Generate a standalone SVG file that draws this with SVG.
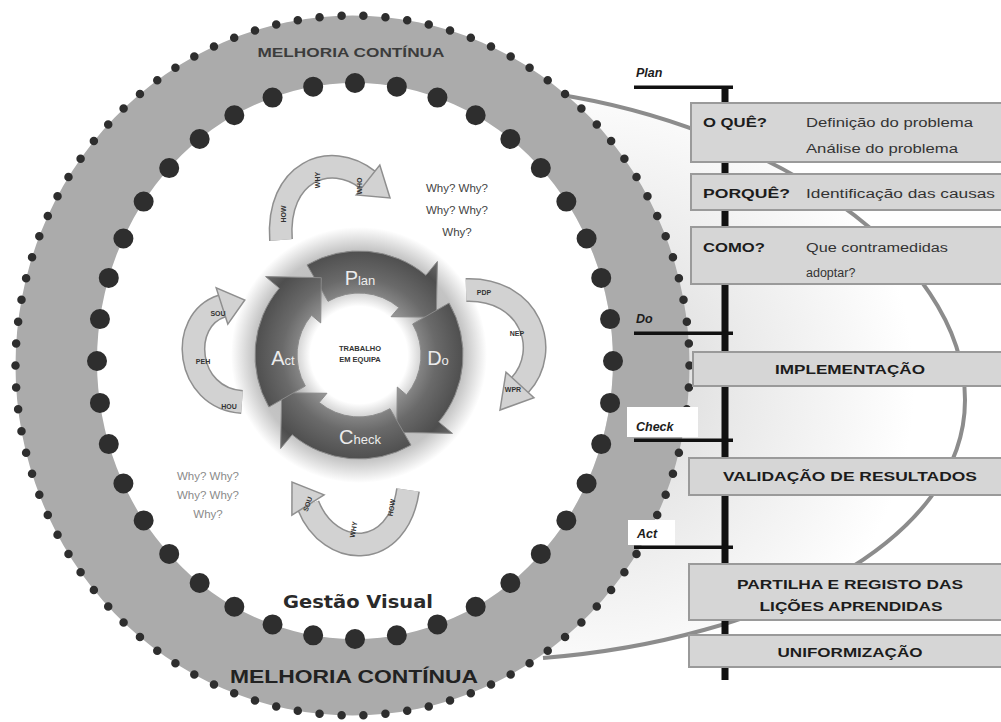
<svg xmlns="http://www.w3.org/2000/svg" width="1001" height="722" viewBox="0 0 1001 722">
  <defs>
    <radialGradient id="haze" gradientUnits="userSpaceOnUse" cx="600" cy="385" r="370">
      <stop offset="0" stop-color="#d6d6d6"/>
      <stop offset="0.35" stop-color="#e8e8e8"/>
      <stop offset="0.85" stop-color="#ffffff"/>
    </radialGradient>
    <radialGradient id="glow" gradientUnits="userSpaceOnUse" cx="359" cy="355" r="128">
      <stop offset="0" stop-color="#ffffff"/>
      <stop offset="0.38" stop-color="#ffffff"/>
      <stop offset="0.55" stop-color="#b8b8b8"/>
      <stop offset="0.82" stop-color="#c4c4c4"/>
      <stop offset="1" stop-color="#ffffff"/>
    </radialGradient>
    <radialGradient id="metal" gradientUnits="userSpaceOnUse" cx="359" cy="355" r="124">
      <stop offset="0.4" stop-color="#9a9a9a"/>
      <stop offset="0.62" stop-color="#6a6a6a"/>
      <stop offset="0.85" stop-color="#4e4e4e"/>
      <stop offset="1" stop-color="#6e6e6e"/>
    </radialGradient>
    <style>
      .dots-s { fill: none; stroke: #2e2e2e; stroke-width: 8.5; stroke-linecap: round; stroke-dasharray: 0 1; }
      .dots-l { fill: none; stroke: #2e2e2e; stroke-width: 20; stroke-linecap: round; stroke-dasharray: 0 1; }
      .box { fill: #d6d6d6; stroke: #9a9a9a; stroke-width: 2; }
      .lbl { font-family: "Liberation Sans", Arial, sans-serif; font-weight: bold; fill: #1c1c1c; }
      .desc { font-family: "Liberation Sans", Arial, sans-serif; font-size: 12.5px; fill: #333; }
      .phase { font-family: "Liberation Sans", Arial, sans-serif; font-weight: bold; font-style: italic; font-size: 12.5px; fill: #1c1c1c; }
      .bar { fill: #111; }
      .why { font-family: "Liberation Sans", Arial, sans-serif; font-size: 11.5px; text-anchor: middle; }
      .pdca { font-family: "Liberation Sans", Arial, sans-serif; fill: #ececec; text-anchor: middle; }
      .arw { fill: url(#metal); stroke: #8a8a8a; stroke-width: 1; }
      .sa-out { fill: none; stroke: #8f8f8f; stroke-width: 24; }
      .sa-in { fill: none; stroke: #d2d2d2; stroke-width: 21; }
      .sa-head { fill: #d2d2d2; stroke: #8f8f8f; stroke-width: 1.5; }
      .tiny { font-family: "Liberation Sans", Arial, sans-serif; font-size: 7px; font-weight: bold; fill: #333; text-anchor: middle; }
    </style>
  </defs>

  <rect width="1001" height="722" fill="#ffffff"/>

  <!-- shaded lobe behind the step boxes, with its grey outline -->
  <g id="lobe">
    <path d="M 555 94 C 760 125, 965 250, 965 400 C 965 540, 770 640, 543 658 L 400 658 L 400 94 Z" fill="url(#haze)"/>
    <path d="M 555 94 C 760 125, 965 250, 965 400 C 965 540, 770 640, 543 658" fill="none" stroke="#8c8c8c" stroke-width="4"/>
  </g>

  <!-- continuous improvement ring -->
  <g id="ring">
    <path d="M 97 361 A 258 278 0 1 1 613 361 A 258 278 0 1 1 97 361 Z" fill="#ffffff"/>
    <path fill="#ababab" fill-rule="evenodd" d="M 15.5 365.5 A 337 350 0 1 1 689.5 365.5 A 337 350 0 1 1 15.5 365.5 Z M 97 361 A 258 278 0 1 1 613 361 A 258 278 0 1 1 97 361 Z"/>
    <path class="dots-s" pathLength="98" d="M 15.5 365.5 A 337 350 0 1 1 689.5 365.5 A 337 350 0 1 1 15.5 365.5"/>
    <path class="dots-l" pathLength="40" d="M 97 361 A 258 278 0 1 1 613 361 A 258 278 0 1 1 97 361"/>
    <text x="351" y="57" text-anchor="middle" font-family="Liberation Sans, Arial, sans-serif" font-weight="bold" font-size="13" fill="#3c3c3c" textLength="187" lengthAdjust="spacingAndGlyphs">MELHORIA CONTÍNUA</text>
    <text x="354" y="683" text-anchor="middle" font-family="Liberation Sans, Arial, sans-serif" font-weight="bold" font-size="19" fill="#222" textLength="248" lengthAdjust="spacingAndGlyphs">MELHORIA CONTÍNUA</text>
    <text x="358" y="608" text-anchor="middle" font-family="DejaVu Sans, sans-serif" font-weight="bold" font-size="18" fill="#2a2a2a" textLength="150" lengthAdjust="spacingAndGlyphs">Gestão Visual</text>
  </g>

  <!-- PDCA wheel -->
  <g id="pdca">
    <circle cx="359" cy="355" r="128" fill="url(#glow)"/>
    <path class="arw" d="M 307 264.9 A 104 104 0 0 1 425.9 275.3 L 437.4 261.5 L 436.3 317.3 L 391.1 316.7 L 398.9 307.5 A 62 62 0 0 0 328 301.3 Z"/>
    <path class="arw" d="M 449.1 303 A 104 104 0 0 1 438.7 421.9 L 452.5 433.4 L 396.7 432.3 L 397.3 387.1 L 406.5 394.9 A 62 62 0 0 0 412.7 324 Z"/>
    <path class="arw" d="M 411 445.1 A 104 104 0 0 1 292.2 434.7 L 280.6 448.5 L 281.7 392.7 L 326.9 393.3 L 319.2 402.5 A 62 62 0 0 0 390 408.7 Z"/>
    <path class="arw" d="M 268.9 407 A 104 104 0 0 1 279.3 288.2 L 265.6 276.6 L 321.3 277.7 L 320.7 322.9 L 311.5 315.2 A 62 62 0 0 0 305.3 386 Z"/>
    <text class="pdca" x="360" y="285"><tspan font-size="20">P</tspan><tspan font-size="13">lan</tspan></text>
    <text class="pdca" x="438" y="365"><tspan font-size="20">D</tspan><tspan font-size="13">o</tspan></text>
    <text class="pdca" x="360" y="444"><tspan font-size="20">C</tspan><tspan font-size="13">heck</tspan></text>
    <text class="pdca" x="283" y="365"><tspan font-size="20">A</tspan><tspan font-size="13">ct</tspan></text>
    <text x="360" y="351" text-anchor="middle" font-family="Liberation Sans, Arial, sans-serif" font-weight="bold" font-size="7.5" fill="#333">TRABALHO</text>
    <text x="360" y="362" text-anchor="middle" font-family="Liberation Sans, Arial, sans-serif" font-weight="bold" font-size="7.5" fill="#333">EM EQUIPA</text>
  </g>

  <!-- small curved arrows around the wheel -->
  <g id="arrow-top">
    <path class="sa-out" d="M 281 240 C 276 172, 330 150, 368 180"/>
    <path class="sa-in" d="M 281 240 C 276 172, 330 150, 368 180"/>
    <polygon class="sa-head" points="356.2,194.9 379.8,165.1 390,198"/>
    <text class="tiny" transform="translate(286 214) rotate(-90)">HOW</text>
    <text class="tiny" transform="translate(320 180) rotate(-90)">WHY</text>
    <text class="tiny" transform="translate(362 186) rotate(-90)">WHO</text>
  </g>
  <g id="arrow-left">
    <path class="sa-out" d="M 242 402 C 185 398, 178 320, 222 306"/>
    <path class="sa-in" d="M 242 402 C 185 398, 178 320, 222 306"/>
    <polygon class="sa-head" points="227.8,324.1 216.2,287.9 244.8,300"/>
    <text class="tiny" x="218" y="316">SOU</text>
    <text class="tiny" x="203" y="364">PEH</text>
    <text class="tiny" x="229" y="409">HOU</text>
  </g>
  <g id="arrow-right">
    <path class="sa-out" d="M 466 290 C 530 288, 552 350, 520 385"/>
    <path class="sa-in" d="M 466 290 C 530 288, 552 350, 520 385"/>
    <polygon class="sa-head" points="534,397.8 506,372.2 500,410"/>
    <text class="tiny" x="484" y="295">PDP</text>
    <text class="tiny" x="517" y="336">NEP</text>
    <text class="tiny" x="513" y="392">WPR</text>
  </g>
  <g id="arrow-bottom">
    <path class="sa-out" d="M 408 490 C 398 560, 330 560, 308 505"/>
    <path class="sa-in" d="M 408 490 C 398 560, 330 560, 308 505"/>
    <polygon class="sa-head" points="324.1,494.9 291.9,515.1 292,482"/>
    <text class="tiny" transform="translate(310 505) rotate(-70)">SOU</text>
    <text class="tiny" transform="translate(356 530) rotate(-80)">WHY</text>
    <text class="tiny" transform="translate(394 508) rotate(-80)">HOW</text>
  </g>

  <!-- five whys -->
  <g id="why-top" fill="#444">
    <text class="why" x="457" y="192">Why? Why?</text>
    <text class="why" x="457" y="214">Why? Why?</text>
    <text class="why" x="457" y="236">Why?</text>
  </g>
  <g id="why-bottom" fill="#8a8a8a">
    <text class="why" x="208" y="480">Why? Why?</text>
    <text class="why" x="208" y="499">Why? Why?</text>
    <text class="why" x="208" y="518">Why?</text>
  </g>

  <!-- timeline spine with phase markers -->
  <g id="spine">
    <rect class="bar" x="721.5" y="86" width="7" height="594"/>
    <rect class="bar" x="634" y="85.5" width="99" height="3.5"/>
    <rect class="bar" x="634" y="331.5" width="99" height="3.5"/>
    <rect class="bar" x="634" y="438.5" width="99" height="3.5"/>
    <rect class="bar" x="634" y="545.5" width="99" height="3.5"/>
  </g>

  <g id="phase-plan"><text class="phase" x="636" y="77">Plan</text></g>
  <g id="phase-do"><text class="phase" x="636" y="323">Do</text></g>
  <g id="phase-check">
    <rect x="627" y="407" width="71" height="30" fill="#ffffff"/>
    <text class="phase" x="636" y="431">Check</text>
  </g>
  <g id="phase-act">
    <rect x="628" y="520" width="47" height="25" fill="#ffffff"/>
    <text class="phase" x="637" y="538" font-size="14">Act</text>
  </g>

  <!-- step boxes -->
  <g id="box-oque">
    <rect class="box" x="691" y="103" width="320" height="59"/>
    <text class="lbl" x="703" y="127" font-size="12" textLength="64" lengthAdjust="spacingAndGlyphs">O QUÊ?</text>
    <text class="desc" x="806" y="127" textLength="167" lengthAdjust="spacingAndGlyphs">Definição do problema</text>
    <text class="desc" x="806" y="153" textLength="152" lengthAdjust="spacingAndGlyphs">Análise do problema</text>
  </g>
  <g id="box-porque">
    <rect class="box" x="691" y="174" width="320" height="36"/>
    <text class="lbl" x="703" y="198" font-size="12" textLength="87" lengthAdjust="spacingAndGlyphs">PORQUÊ?</text>
    <text class="desc" x="806" y="198" textLength="189" lengthAdjust="spacingAndGlyphs">Identificação das causas</text>
  </g>
  <g id="box-como">
    <rect class="box" x="691" y="227" width="320" height="57"/>
    <text class="lbl" x="703" y="252" font-size="12" textLength="62" lengthAdjust="spacingAndGlyphs">COMO?</text>
    <text class="desc" x="806" y="252" textLength="142" lengthAdjust="spacingAndGlyphs">Que contramedidas</text>
    <text class="desc" x="806" y="277">adoptar?</text>
  </g>
  <g id="box-implementacao">
    <rect class="box" x="693" y="352" width="318" height="34"/>
    <text class="lbl" x="850" y="374" font-size="12" text-anchor="middle" textLength="150" lengthAdjust="spacingAndGlyphs">IMPLEMENTAÇÃO</text>
  </g>
  <g id="box-validacao">
    <rect class="box" x="689" y="458" width="322" height="37"/>
    <text class="lbl" x="850" y="481" font-size="12" text-anchor="middle" textLength="254" lengthAdjust="spacingAndGlyphs">VALIDAÇÃO DE RESULTADOS</text>
  </g>
  <g id="box-partilha">
    <rect class="box" x="689" y="564" width="322" height="56"/>
    <text class="lbl" x="850" y="589" font-size="12" text-anchor="middle" textLength="226" lengthAdjust="spacingAndGlyphs">PARTILHA E REGISTO DAS</text>
    <text class="lbl" x="851" y="611" font-size="12" text-anchor="middle" textLength="183" lengthAdjust="spacingAndGlyphs">LIÇÕES APRENDIDAS</text>
  </g>
  <g id="box-uniformizacao">
    <rect class="box" x="689" y="635" width="322" height="32"/>
    <text class="lbl" x="850" y="657" font-size="12" text-anchor="middle" textLength="145" lengthAdjust="spacingAndGlyphs">UNIFORMIZAÇÃO</text>
  </g>
</svg>
